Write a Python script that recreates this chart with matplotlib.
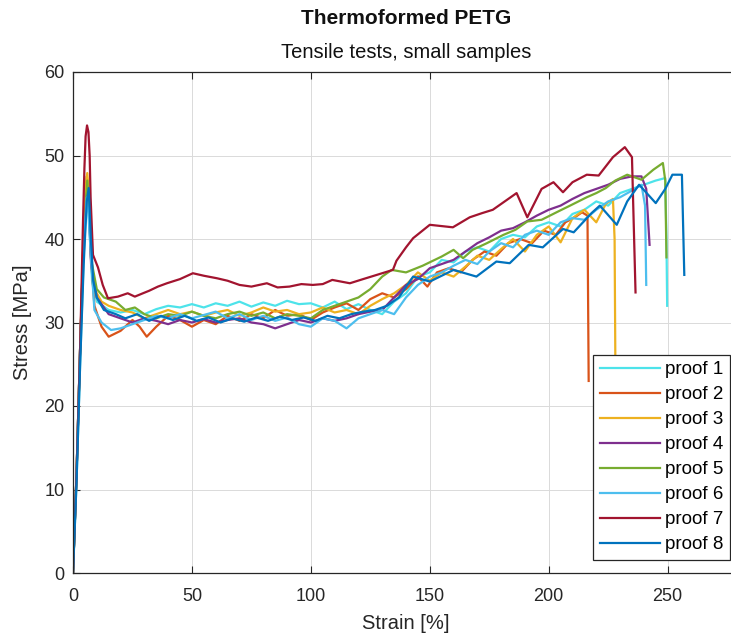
import matplotlib
matplotlib.use("Agg")
import matplotlib.pyplot as plt

plt.rcParams['font.family'] = ['Liberation Sans', 'DejaVu Sans']

# values (strain in %, stress in MPa)
strain_p1 = [0, 1.5, 3, 4.5, 5.6, 6.3, 7, 8, 10, 15, 20, 25, 30, 35, 40, 45, 50, 55, 60, 65, 70, 75, 80, 85, 90, 95,
             100, 105, 110, 115, 120, 125, 130, 135, 140, 145, 150, 155, 160, 165, 170, 175, 180, 185, 190, 195, 200,
             205, 210, 215, 220, 225, 230, 235, 240, 245, 249, 249.5, 249.8]
stress_p1 = [0, 11, 25, 38, 44, 45.2, 41, 35, 32.5, 31.5, 31.2, 31.5, 31, 31.6, 32, 31.8, 32.2, 31.8, 32.3, 32, 32.5,
             31.9, 32.4, 32, 32.6, 32.2, 32.3, 31.8, 32.5, 31.6, 32.2, 31.5, 31, 32.5, 33.5, 35.5, 36, 37.5, 37.2, 38.5,
             39, 38.5, 40, 40.5, 40.2, 41.5, 42, 41.5, 43, 43.5, 44.5, 44, 45.5, 46, 46.5, 47, 47.3, 40, 32]

strain_p2 = [0, 1.5, 3, 4.5, 5.8, 6.6, 7.5, 9, 12, 15, 20, 25, 28, 31, 35, 40, 45, 50, 55, 60, 65, 70, 75, 80, 85, 90,
             95, 100, 105, 110, 115, 120, 125, 130, 135, 140, 145, 149, 153, 158, 163, 168, 173, 178, 183, 188, 193,
             198, 203, 207, 211, 214, 216.3, 216.8]
stress_p2 = [0, 12, 27, 41, 47.5, 45, 38, 32, 29.5, 28.3, 29, 30.3, 29.5, 28.3, 29.5, 30.8, 30.3, 29.5, 30.3, 29.8,
             30.8, 30.2, 31, 30.5, 31.5, 30.8, 31, 30.3, 31.2, 31.8, 32.3, 31.5, 32.8, 33.5, 33, 34, 35.5, 34.3, 36, 36.5,
             36, 37.5, 38.5, 38, 39.5, 40, 39.5, 41, 40.5, 42, 42.6, 43.2, 42.8, 23]

strain_p3 = [0, 1.5, 3, 4.5, 5.4, 6, 6.8, 7.6, 9, 12, 15, 20, 25, 30, 35, 40, 45, 50, 55, 60, 65, 70, 75, 80, 85, 90,
             95, 100, 105, 110, 115, 120, 125, 130, 135, 140, 145, 150, 155, 160, 165, 170, 175, 180, 185, 190, 195,
             200, 205, 210, 215, 220, 224, 227, 227.7, 228]
stress_p3 = [0, 12, 27, 41, 46.5, 47.9, 45, 38, 34, 32.5, 32, 31.5, 31.2, 30.5, 31, 31.5, 31, 31.3, 30.8, 31.2, 31.5,
             30.8, 31.2, 31.8, 31.3, 31.5, 31, 31.2, 31.8, 31.2, 31.5, 31, 32, 32.8, 33.5, 34.5, 36, 35, 36, 35.5, 36.7,
             38, 37.5, 38.8, 40, 38.5, 40.5, 41.5, 39.6, 42.5, 43.5, 42, 44.2, 44.8, 40, 26]

strain_p4 = [0, 1.5, 3, 4.5, 6, 6.8, 7.6, 10, 15, 20, 25, 30, 35, 40, 45, 50, 55, 60, 65, 70, 75, 80, 85, 90, 95, 100,
             105, 110, 115, 120, 125, 130, 135, 140, 145, 150, 155, 160, 165, 170, 175, 180, 185, 190, 195, 200, 205,
             210, 215, 220, 225, 230, 235, 239, 241, 242.4]
stress_p4 = [0, 12, 27, 40, 46, 43, 37, 33, 31, 30.5, 30, 30.5, 30.2, 29.8, 30.3, 30, 30.4, 30, 30.3, 30.5, 30, 29.8,
             29.3, 29.8, 30.3, 30, 30.5, 30.2, 30.5, 31, 31.3, 31.5, 33, 34.5, 35.2, 36.5, 37, 37.5, 38.5, 39.5, 40.2,
             41, 41.3, 42, 42.8, 43.5, 44, 44.8, 45.5, 46, 46.5, 47.2, 47.5, 47.5, 46, 39.3]

strain_p5 = [0, 1.5, 3, 4.5, 6, 6.8, 8, 10, 13, 18, 22, 26, 30, 35, 40, 45, 50, 55, 60, 65, 70, 75, 80, 85, 90, 95,
             100, 105, 110, 115, 120, 125, 130, 134, 140, 147, 155, 160, 164, 168, 174, 181, 186, 191, 197, 204, 209,
             216, 220, 224, 228, 233, 239, 244, 248, 249, 249.5]
stress_p5 = [0, 12, 27, 40, 47, 44, 37, 34, 33, 32.5, 31.5, 31.8, 31, 30.5, 31, 30.8, 31.3, 30.8, 30.5, 31, 31.3, 30.8,
             31.2, 30.5, 31, 30.8, 30.5, 31.5, 32, 32.5, 33, 34, 35.5, 36.3, 36, 36.8, 37.9, 38.7, 37.7, 38.7, 39.5,
             40.5, 41.1, 42.1, 42.3, 43.3, 44, 45, 45.5, 46.1, 47, 47.7, 47.1, 48.3, 49.1, 47, 37.8]

strain_p6 = [0, 1.5, 3, 4.5, 5.8, 6.5, 7.5, 9, 12, 16, 20, 25, 30, 35, 40, 45, 50, 55, 60, 65, 70, 75, 80, 85, 90, 95,
             100, 105, 110, 115, 120, 125, 130, 135, 140, 145, 150, 155, 160, 165, 170, 175, 180, 185, 190, 195, 200,
             205, 210, 215, 220, 225, 230, 235, 239, 240.5, 241]
stress_p6 = [0, 12, 27, 40, 45, 43, 38, 31.5, 30, 29.1, 29.3, 29.8, 30.3, 30.8, 30.5, 31, 30.5, 30.9, 31.3, 30.5, 31,
             30.3, 30.8, 30.2, 30.6, 29.8, 29.5, 30.5, 30.2, 29.3, 30.5, 31, 31.5, 31, 33, 34.5, 35.5, 36, 36.8, 37.5,
             37, 38.5, 39.5, 39, 40.5, 41, 40.5, 42, 42.5, 42.3, 43.5, 44.5, 45, 45.8, 46.5, 44, 34.5]

strain_p7 = [0, 1.5, 3, 4.2, 4.8, 5.3, 5.9, 6.5, 7, 7.4, 8.4, 10.5, 12.5, 14.7, 18.9, 23, 26, 29.4, 32, 35.7, 39.5, 45,
             50.4, 55, 60.5, 65, 70, 75, 81.5, 86, 91, 96, 100.8, 105, 109, 116.4, 122, 127.7, 134.5, 136, 140, 143,
             150, 159.7, 166.8, 172, 176.5, 181, 186.5, 191, 197, 202, 206, 210, 216, 221, 227, 232, 235, 236.5]
stress_p7 = [0, 12, 27, 42, 48.5, 52.3, 53.6, 52.8, 50, 45, 38.1, 36.6, 34.5, 32.9, 33.1, 33.5, 33.1, 33.5, 33.8, 34.3,
             34.7, 35.2, 35.9, 35.6, 35.3, 35, 34.5, 34.3, 34.7, 34.2, 34.3, 34.6, 34.5, 34.6, 35.1, 34.7, 35.2, 35.7,
             36.3, 37.4, 39, 40.1, 41.7, 41.4, 42.6, 43.1, 43.5, 44.4, 45.5, 42.6, 46, 46.8, 45.6, 46.8, 47.7, 47.6,
             49.8, 51, 49.8, 33.6]

strain_p8 = [0, 1.5, 3, 4.5, 5.8, 6.6, 7.5, 8.5, 10, 13, 18, 22, 27, 32, 37, 42, 47, 52, 57, 62, 67, 72, 77, 82, 87, 92,
             97, 102, 107, 112, 117, 122, 127, 132, 137, 143, 150, 160, 169.6, 178, 183.6, 191.6, 197.5, 206, 210.5,
             218, 221.5, 228.6, 233, 238, 245, 249, 252, 256, 257]
stress_p8 = [0, 11, 25, 37, 44.5, 46.1, 40, 35, 33, 31.5, 31, 30.5, 31, 30.2, 30.8, 30.3, 30.8, 30.2, 30.6, 30, 30.5,
             30.1, 30.6, 30.2, 30.7, 30.3, 30.6, 30.2, 30.8, 30.5, 31, 31.3, 31.5, 32, 33, 35.5, 34.9, 36.3, 35.5, 37.3,
             37.1, 39.3, 39, 41.2, 40.8, 43.1, 44, 41.7, 44.5, 46.5, 44.3, 46, 47.7, 47.7, 35.7]

labels = ['proof 1', 'proof 2', 'proof 3', 'proof 4', 'proof 5', 'proof 6', 'proof 7', 'proof 8']
colors = ['#4DE3EA', '#D95319', '#EDB120', '#7E2F8E', '#77AC30', '#4DBEEE', '#A2142F', '#0072BD']

curves = [(strain_p1, stress_p1), (strain_p2, stress_p2), (strain_p3, stress_p3), (strain_p4, stress_p4),
          (strain_p5, stress_p5), (strain_p6, stress_p6), (strain_p7, stress_p7), (strain_p8, stress_p8)]

fig = plt.figure(figsize=(7.31, 6.42), dpi=100)
ax = fig.add_axes([73 / 731, 69 / 642, 666 / 731, 501 / 642])

for (sx, sy), lab, col in zip(curves, labels, colors):
    ax.plot(sx, sy, color=col, lw=1.6, label=lab, solid_joinstyle='round')

ax.set_xlim(0, 280)
ax.set_ylim(0, 60)
ax.set_xticks([0, 50, 100, 150, 200, 250])
ax.set_yticks([0, 10, 20, 30, 40, 50, 60])
ax.grid(True, color='#DADADA', lw=0.7)
ax.set_axisbelow(True)
ax.tick_params(direction='in', top=True, right=True, length=5, labelsize=13, colors='#262626')
ax.tick_params(axis='x', pad=11)
ax.tick_params(axis='y', pad=6)
for sp in ax.spines.values():
    sp.set_color('#262626')
    sp.set_linewidth(0.9)

ax.set_xlabel('Strain [%]', fontsize=14.5, color='#262626', labelpad=6)
ax.set_ylabel('Stress [MPa]', fontsize=14.5, color='#262626', labelpad=9)

fig.text(406 / 731, 1 - 18 / 642, 'Thermoformed PETG', ha='center', va='center', fontsize=15, fontweight='bold',
         color='#111111')
fig.text(406 / 731, 1 - 52 / 642, 'Tensile tests, small samples', ha='center', va='center', fontsize=14.5,
         color='#111111')

leg = ax.legend(loc='lower left', bbox_to_anchor=((593 - 73) / 666, (573 - 560) / 501), fontsize=13.5,
                handlelength=3.2, labelspacing=0.42, handletextpad=0.3, borderpad=0.35, borderaxespad=0,
                fancybox=False, framealpha=1)
leg.get_frame().set_edgecolor('#262626')
leg.get_frame().set_linewidth(0.9)

fig.savefig('out.png', dpi=100)
